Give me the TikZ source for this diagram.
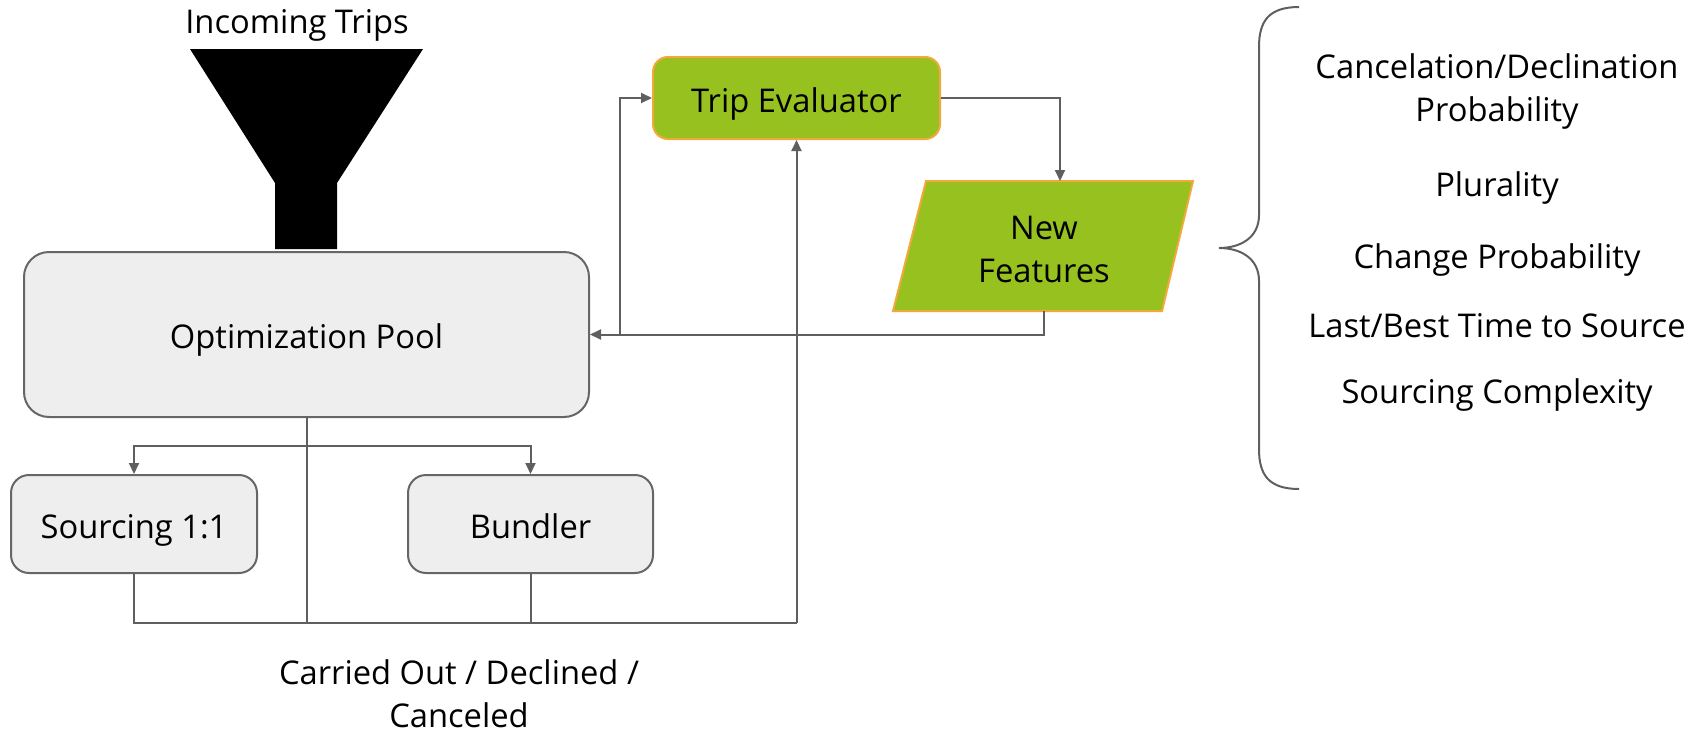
\documentclass[tikz,border=0pt]{standalone}
\usepackage{fontspec}
\setmainfont{Open Sans}
\usetikzlibrary{arrows.meta}

\definecolor{linegray}{HTML}{5F5F5F}
\definecolor{boxgray}{HTML}{EEEEEE}
\definecolor{boxline}{HTML}{666666}
\definecolor{leafgreen}{HTML}{97C11F}
\definecolor{edgeorange}{HTML}{F2A93B}

\tikzset{
  label text/.style={font=\fontsize{32.7}{43}\selectfont, inner sep=0pt},
  multi text/.style={label text, align=center},
  graybox/.style={label text, text height=36pt, text depth=8pt,
    draw=boxline, fill=boxgray, line width=2pt},
  greenbox/.style={label text, text height=36pt, text depth=8pt,
    draw=edgeorange, fill=leafgreen, line width=2pt},
  conn/.style={draw=linegray, line width=2pt},
  arrow/.style={conn, -{Triangle[length=11pt,width=10pt]}}
}

\begin{document}
\begin{tikzpicture}[x=1pt,y=-1pt]
  \useasboundingbox (0,0) rectangle (1697,736);

  % funnel
  \coordinate (T1) at (190,49);
  \coordinate (T2) at (423,49);
  \coordinate (N1) at (337,183);
  \coordinate (N2) at (337,249);
  \coordinate (N3) at (275,249);
  \coordinate (N4) at (275,183);
  \fill[black] (T1) -- (T2) -- (N1) -- (N2) -- (N3) -- (N4) -- cycle;
  \node[label text] (incoming) at (297,25) {Incoming Trips};

  % boxes
  \node[graybox, rounded corners=25pt, minimum width=565pt, minimum height=165pt]
    (pool) at (306.5,334.5) {Optimization Pool};
  \node[graybox, rounded corners=18pt, minimum width=246pt, minimum height=98pt]
    (src) at (134,524) {Sourcing 1:1};
  \node[graybox, rounded corners=18pt, minimum width=245pt, minimum height=98pt]
    (bund) at (530.5,524) {Bundler};
  \node[greenbox, rounded corners=15pt, minimum width=287pt, minimum height=82pt]
    (eval) at (796.5,98) {Trip Evaluator};

  % new features parallelogram
  \coordinate (P1) at (926,181);
  \coordinate (P2) at (1193,181);
  \coordinate (P3) at (1162,311);
  \coordinate (P4) at (893,311);
  \filldraw[fill=leafgreen, draw=edgeorange, line width=2pt]
    (P1) -- (P2) -- (P3) -- (P4) -- cycle;
  \node[multi text] (feat) at (1044,249) {New\\Features};
  \coordinate (featin) at (1060,181);
  \coordinate (featout) at (1044,311);

  % connectors
  \coordinate (fork) at (620,334.5);
  \coordinate (branch) at (306.5,446);
  \coordinate (join) at (796.5,623);
  \draw[arrow] (eval.east) -| (featin);
  \draw[arrow] (featout) |- (pool.east);
  \draw[arrow] (fork) |- (eval.west);
  \draw[arrow] (branch) -| (src.north);
  \draw[arrow] (branch) -| (bund.north);
  \draw[conn] (pool.south) -- (pool.south |- join);
  \draw[conn] (src.south) |- (join);
  \draw[conn] (bund.south) -- (bund.south |- join);
  \draw[arrow] (join) -- (eval.south);
  \node[multi text] (outcome) at (459,694) {Carried Out / Declined /\\Canceled};

  % brace and feature list
  \draw[conn] (1299,7) .. controls (1268,7) and (1259,22) .. (1259,47)
    -- (1259,215) .. controls (1259,238) and (1240,248) .. (1219,248)
    .. controls (1240,248) and (1259,258) .. (1259,281)
    -- (1259,449) .. controls (1259,474) and (1268,489) .. (1299,489);
  \node[multi text] (cancel) at (1497,92) {Cancelation/Declination\\Probability};
  \node[label text] (plural) at (1497,188.5) {Plurality};
  \node[label text] (change) at (1497,260.5) {Change Probability};
  \node[label text] (lastbest) at (1497,326) {Last/Best Time to Source};
  \node[label text] (complex) at (1497,395.5) {Sourcing Complexity};
\end{tikzpicture}
\end{document}
